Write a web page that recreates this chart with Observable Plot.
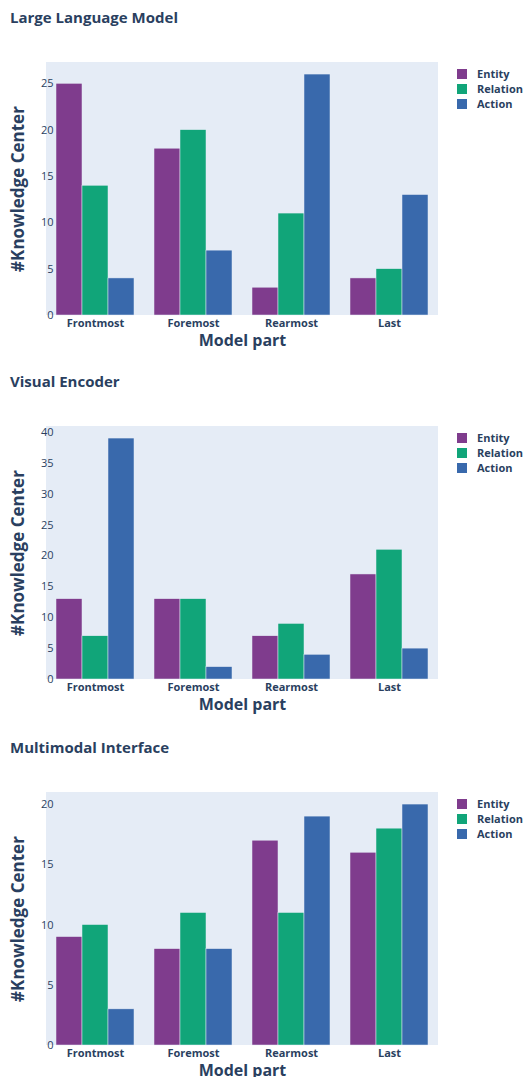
<!DOCTYPE html>
<html>
<head>
<meta charset="utf-8">
<script src="https://cdn.jsdelivr.net/npm/d3@7"></script>
<script src="https://cdn.jsdelivr.net/npm/@observablehq/plot@0.6"></script>
<style>
  html, body { margin: 0; padding: 0; background: white; }
  body { width: 524px; height: 1077px; position: relative; overflow: hidden; font-family: "Open Sans", sans-serif; color: #2a3f5f; }
  .panel { position: absolute; left: 0; width: 524px; height: 366px; }
  .title { position: absolute; left: 10px; top: 10px; font: bold 15px/15px "Open Sans", sans-serif; color: #2a3f5f; white-space: nowrap; }
  .bg { position: absolute; left: 46px; top: 62px; width: 392px; height: 253px; background: #E5ECF6; }
  .legend { position: absolute; left: 457px; top: 66px; }
  .legend .item { height: 15px; display: flex; align-items: center; font: bold 11px "Open Sans", sans-serif; color: #2a3f5f; white-space: nowrap; }
  .legend .sw { width: 10px; height: 10px; margin-right: 10px; }
  svg [aria-label="y-axis label"] { font-weight: bold; font-size: 17px; }
  svg [aria-label="fx-axis label"] { font-weight: bold; font-size: 16px; }
  svg [aria-label="fx-axis tick label"] { font-weight: bold; font-size: 11px; }
</style>
</head>
<body>
<script>
const parts = ["Frontmost", "Foremost", "Rearmost", "Last"];
const types = ["Entity", "Relation", "Action"];
const colors = ["#7F3C8D", "#11A579", "#3969AC"];
const panelTitles = ["Large Language Model", "Visual Encoder", "Multimodal Interface"];

const llmEntity = [25, 18, 3, 4];
const llmRelation = [14, 20, 11, 5];
const llmAction = [4, 7, 26, 13];

const veEntity = [13, 13, 7, 17];
const veRelation = [7, 13, 9, 21];
const veAction = [39, 2, 4, 5];

const miEntity = [9, 8, 17, 16];
const miRelation = [10, 11, 11, 18];
const miAction = [3, 8, 19, 20];

const panelSeries = [
  [llmEntity, llmRelation, llmAction],
  [veEntity, veRelation, veAction],
  [miEntity, miRelation, miAction]
];
const panelTops = [0, 364, 730];

panelSeries.forEach((series, p) => {
  const data = [];
  parts.forEach((part, i) => {
    types.forEach((type, j) => {
      data.push({part, type, value: series[j][i]});
    });
  });
  const maxV = d3.max(data, d => d.value);
  const top = maxV * 1.05;
  const tickVals = d3.range(0, top + 0.001, 5);

  const panel = document.createElement("div");
  panel.className = "panel";
  panel.style.top = panelTops[p] + "px";
  document.body.appendChild(panel);

  const title = document.createElement("div");
  title.className = "title";
  title.textContent = panelTitles[p];
  panel.appendChild(title);

  const bg = document.createElement("div");
  bg.className = "bg";
  panel.appendChild(bg);

  const chart = Plot.plot({
    width: 524,
    height: 325,
    marginLeft: 46,
    marginRight: 86,
    marginTop: 22,
    marginBottom: 50,
    style: {background: "transparent", color: "#2a3f5f", fontFamily: "Open Sans, sans-serif", fontSize: "11px", overflow: "visible"},
    fx: {domain: parts, paddingInner: 0.2, paddingOuter: 0.1, axis: "bottom", tickSize: 0, tickPadding: 4,
         label: "Model part", labelAnchor: "center", labelOffset: 30},
    x: {domain: types, padding: 0, axis: null},
    y: {domain: [0, top], ticks: tickVals, tickSize: 0, tickPadding: 3,
        label: "#Knowledge Center", labelAnchor: "center", labelOffset: 45, labelArrow: false},
    color: {domain: types, range: colors},
    marks: [
      Plot.barY(data, {fx: "part", x: "type", y: "value", fill: "type", stroke: "#E5ECF6", strokeWidth: 0.5, inset: 0})
    ]
  });
  chart.style.position = "absolute";
  chart.style.left = "0px";
  chart.style.top = "40px";
  panel.appendChild(chart);

  const legend = document.createElement("div");
  legend.className = "legend";
  types.forEach((t, j) => {
    const item = document.createElement("div");
    item.className = "item";
    const sw = document.createElement("span");
    sw.className = "sw";
    sw.style.background = colors[j];
    item.appendChild(sw);
    item.appendChild(document.createTextNode(t));
    legend.appendChild(item);
  });
  panel.appendChild(legend);
});
</script>
</body>
</html>
